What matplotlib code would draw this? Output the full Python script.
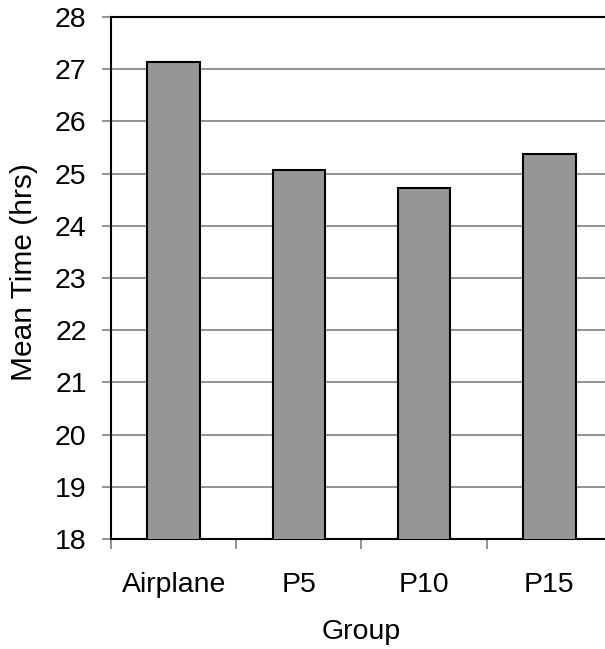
import numpy as np
import matplotlib
matplotlib.use("Agg")
import matplotlib.pyplot as plt

# mean time per group (hours)
groups = ["Airplane", "P5", "P10", "P15"]
mean_time = [27.13, 25.07, 24.73, 25.38]
y_ticks = [18, 19, 20, 21, 22, 23, 24, 25, 26, 27, 28]

plt.rcParams['font.family'] = ['Liberation Sans', 'DejaVu Sans']

fig = plt.figure(figsize=(6.05, 6.49), dpi=100)
ax = fig.add_axes([0.1835, 0.1695, 0.828, 0.8043])

x = np.arange(len(groups))
ax.bar(x, mean_time, width=0.42, bottom=0, color="#969696",
       edgecolor="black", linewidth=1.5, zorder=3)

ax.set_ylim(18, 28)
ax.set_xlim(-0.5, len(groups) - 0.5)
ax.set_yticks(y_ticks)
ax.yaxis.grid(True, color="#808080", linewidth=1.2, zorder=0)

# category labels at the centres, tick marks between categories
ax.set_xticks(x)
ax.set_xticklabels(groups)
ax.set_xticks(np.arange(len(groups) + 1) - 0.5, minor=True)
ax.tick_params(axis='x', which='major', length=0, pad=24, labelsize=20.5)
ax.tick_params(axis='x', which='minor', length=7.5, width=1.2,
               color="#808080", direction='out')
ax.tick_params(axis='y', length=6.5, width=1.2, color="#808080",
               pad=11, labelsize=20.5)

for side in ["left", "bottom", "top", "right"]:
    ax.spines[side].set_linewidth(1.5)
    ax.spines[side].set_color("black")

ax.set_xlabel("Group", fontsize=20.5)
ax.set_ylabel("Mean Time (hrs)", fontsize=21.5)
ax.xaxis.set_label_coords(0.5, -0.153)
ax.yaxis.set_label_coords(-0.146, 0.5105)

fig.savefig("out.png", dpi=100)
